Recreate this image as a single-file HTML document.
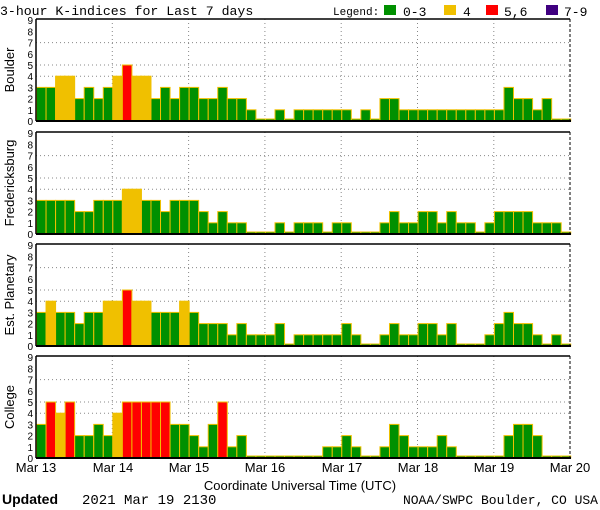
<!DOCTYPE html>
<html><head><meta charset="utf-8"><style>
html,body{margin:0;padding:0;background:#fff;}
svg{display:block;}
text{font-family:"Liberation Sans",sans-serif;}
.m{font-family:"Liberation Mono",monospace;}
</style></head><body>
<svg id="s" width="600" height="510" viewBox="0 0 600 510" xmlns="http://www.w3.org/2000/svg">
<text class="m" x="0" y="15" font-size="13.2">3-hour K-indices for Last 7 days</text>
<text class="m" x="333" y="15" font-size="11">Legend:</text>
<rect x="384" y="5" width="12" height="10" fill="#009000"/>
<text class="m" x="403" y="16" font-size="13">0-3</text>
<rect x="444" y="5" width="12" height="10" fill="#f0c000"/>
<text class="m" x="463" y="16" font-size="13">4</text>
<rect x="486" y="5" width="12" height="10" fill="#ff0000"/>
<text class="m" x="504" y="16" font-size="13">5,6</text>
<rect x="546" y="5" width="12" height="10" fill="#400080"/>
<text class="m" x="564" y="16" font-size="13">7-9</text>
<g id="bars"></g>
<g font-size="10" text-anchor="end" class="m">
<g transform="translate(0,19)"><text x="33" y="106">0</text><text x="33" y="94.8">1</text><text x="33" y="83.6">2</text><text x="33" y="72.4">3</text><text x="33" y="61.2">4</text><text x="33" y="50">5</text><text x="33" y="38.8">6</text><text x="33" y="27.6">7</text><text x="33" y="16.4">8</text><text x="33" y="5.2">9</text></g>
<g transform="translate(0,132)"><text x="33" y="106">0</text><text x="33" y="94.8">1</text><text x="33" y="83.6">2</text><text x="33" y="72.4">3</text><text x="33" y="61.2">4</text><text x="33" y="50">5</text><text x="33" y="38.8">6</text><text x="33" y="27.6">7</text><text x="33" y="16.4">8</text><text x="33" y="5.2">9</text></g>
<g transform="translate(0,244)"><text x="33" y="106">0</text><text x="33" y="94.8">1</text><text x="33" y="83.6">2</text><text x="33" y="72.4">3</text><text x="33" y="61.2">4</text><text x="33" y="50">5</text><text x="33" y="38.8">6</text><text x="33" y="27.6">7</text><text x="33" y="16.4">8</text><text x="33" y="5.2">9</text></g>
<g transform="translate(0,356)"><text x="33" y="106">0</text><text x="33" y="94.8">1</text><text x="33" y="83.6">2</text><text x="33" y="72.4">3</text><text x="33" y="61.2">4</text><text x="33" y="50">5</text><text x="33" y="38.8">6</text><text x="33" y="27.6">7</text><text x="33" y="16.4">8</text><text x="33" y="5.2">9</text></g>
</g>
<g font-size="13" text-anchor="middle">
<text transform="translate(14,70) rotate(-90)">Boulder</text>
<text transform="translate(14,183) rotate(-90)">Fredericksburg</text>
<text transform="translate(14,295) rotate(-90)">Est. Planetary</text>
<text transform="translate(14,407) rotate(-90)">College</text>
</g>
<g font-size="13" text-anchor="middle" class="m">
<text x="36" y="472">Mar 13</text>
<text x="113" y="472">Mar 14</text>
<text x="189" y="472">Mar 15</text>
<text x="265" y="472">Mar 16</text>
<text x="342" y="472">Mar 17</text>
<text x="418" y="472">Mar 18</text>
<text x="494" y="472">Mar 19</text>
<text x="570" y="472">Mar 20</text>
<text x="300" y="490">Coordinate Universal Time (UTC)</text>
</g>
<text x="2" y="504" font-size="14" font-family="Liberation Serif,serif" font-weight="bold">Updated</text>
<text class="m" x="82" y="504" font-size="14">2021 Mar 19 2130</text>
<text class="m" x="598" y="504" font-size="13" text-anchor="end">NOAA/SWPC Boulder, CO USA</text>
</svg>
<script>
var D=[
[3,3,4,4,2,3,2,3, 4,5,4,4,2,3,2,3, 3,2,2,3,2,2,1,0, 0,1,0,1,1,1,1,1, 1,0,1,0,2,2,1,1, 1,1,1,1,1,1,1,1, 1,3,2,2,1,2,0,0],
[3,3,3,3,2,2,3,3, 3,4,4,3,3,2,3,3, 3,2,1,2,1,1,0,0, 0,1,0,1,1,1,0,1, 1,0,0,0,1,2,1,1, 2,2,1,2,1,1,0,1, 2,2,2,2,1,1,1,0],
[3,4,3,3,2,3,3,4, 4,5,4,4,3,3,3,4, 3,2,2,2,1,2,1,1, 1,2,0,1,1,1,1,1, 2,1,0,0,1,2,1,1, 2,2,1,2,0,0,0,1, 2,3,2,2,1,0,1,0],
[3,5,4,5,2,2,3,2, 4,5,5,5,5,5,3,3, 2,1,3,5,1,2,0,0, 0,0,0,0,0,0,1,1, 2,1,0,0,1,3,2,1, 1,1,2,1,0,0,0,0, 0,2,3,3,2,0,0,0]];
var tops=[19,132,244,356],H=102,U=11.2,x0=36.5,W=9.54,s='';
function col(v){return v<=3?'#009000':v==4?'#f0c000':v<=6?'#ff0000':'#400080';}
for(var p=0;p<4;p++){var t=tops[p],b=t+H;
 [4,5,7].forEach(function(g){var y=b-g*U;s+='<line x1="36" x2="570" y1="'+y+'" y2="'+y+'" stroke="#888" stroke-dasharray="1,3"/>';});
 for(var d=1;d<7;d++){var x=36+d*76.3;s+='<line x1="'+x+'" x2="'+x+'" y1="'+t+'" y2="'+b+'" stroke="#888" stroke-dasharray="1,3"/>';}
 for(var i=0;i<56;i++){var v=D[p][i],h=v?v*U:2;s+='<rect x="'+(x0+i*W)+'" y="'+(b-h)+'" width="'+W+'" height="'+h+'" fill="'+col(v)+'" stroke="#f0c000" stroke-width="1"/>';}
 s+='<line x1="36" x2="570" y1="'+t+'" y2="'+t+'" stroke="#000" stroke-width="1.5"/>';
 s+='<line x1="36" x2="36" y1="'+t+'" y2="'+b+'" stroke="#000" stroke-width="1.5"/>';
 s+='<line x1="570" x2="570" y1="'+t+'" y2="'+b+'" stroke="#000" stroke-dasharray="3,2"/>';
 s+='<line x1="36" x2="571" y1="'+b+'" y2="'+b+'" stroke="#000" stroke-width="2"/>';
}
document.getElementById('bars').innerHTML=s;
</script>
</body></html>
